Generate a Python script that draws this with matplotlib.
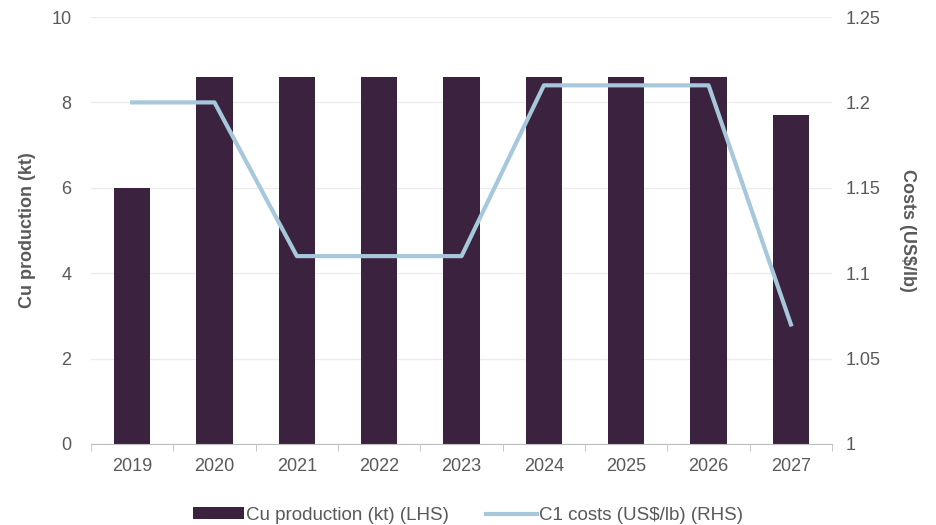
import matplotlib.pyplot as plt
import numpy as np

years = ["2019", "2020", "2021", "2022", "2023", "2024", "2025", "2026", "2027"]
cu_production = [6.0, 8.6, 8.6, 8.6, 8.6, 8.6, 8.6, 8.6, 7.7]
c1_costs = [1.20, 1.20, 1.11, 1.11, 1.11, 1.21, 1.21, 1.21, 1.07]

BAR_COLOR = "#3b2340"
LINE_COLOR = "#a6c8da"
TEXT_COLOR = "#595959"
GRID_COLOR = "#ececec"

plt.rcParams["font.family"] = ["Liberation Sans", "DejaVu Sans"]

fig = plt.figure(figsize=(9.36, 5.25), dpi=100)
ax = fig.add_axes([0.0972, 0.1543, 0.7918, 0.8133])
ax2 = ax.twinx()

x = np.arange(len(years))
bars = ax.bar(x, cu_production, width=0.44, color=BAR_COLOR, zorder=2,
              label="Cu production (kt) (LHS)")
line, = ax2.plot(x, c1_costs, color=LINE_COLOR, lw=3, zorder=3,
                 label="C1 costs (US$/lb) (RHS)")

ax.set_xlim(-0.5, len(years) - 0.5)
ax.set_ylim(0, 10)
ax.set_yticks(np.arange(0, 11, 2))
ax2.set_ylim(1.0, 1.25)
ax2.set_yticks([1.0, 1.05, 1.1, 1.15, 1.2, 1.25])
ax2.set_yticklabels(["1", "1.05", "1.1", "1.15", "1.2", "1.25"])

ax.yaxis.grid(True, color=GRID_COLOR, lw=1, zorder=0)
ax.set_axisbelow(True)

for a in (ax, ax2):
    for side in ("top", "left", "right", "bottom"):
        a.spines[side].set_visible(False)
    a.tick_params(colors=TEXT_COLOR, labelsize=13, length=0, pad=14)
ax.spines["bottom"].set_visible(True)
ax.spines["bottom"].set_color("#bfbfbf")
ax2.tick_params(axis="y", pad=10)

ax.set_xticks(x)
ax.set_xticklabels(years)
ax.set_xticks(np.arange(-0.5, len(years), 1), minor=True)
ax.tick_params(axis="x", which="minor", length=5, color="#bfbfbf")
ax.tick_params(axis="x", which="major", pad=10)

ax.set_ylabel("Cu production (kt)", color=TEXT_COLOR, fontsize=13,
              fontweight="bold", labelpad=11)
ax2.set_ylabel("Costs (US$/lb)", color=TEXT_COLOR, fontsize=13,
               fontweight="bold", rotation=270, labelpad=25)

fig.legend(handles=[bars, line], loc="lower center", ncol=2,
           bbox_to_anchor=(0.5, -0.03), frameon=False, fontsize=13.5,
           labelcolor=TEXT_COLOR, handlelength=2.7, handletextpad=0.1,
           columnspacing=2.0, handleheight=0.6)

fig.savefig("out.png", dpi=100)
